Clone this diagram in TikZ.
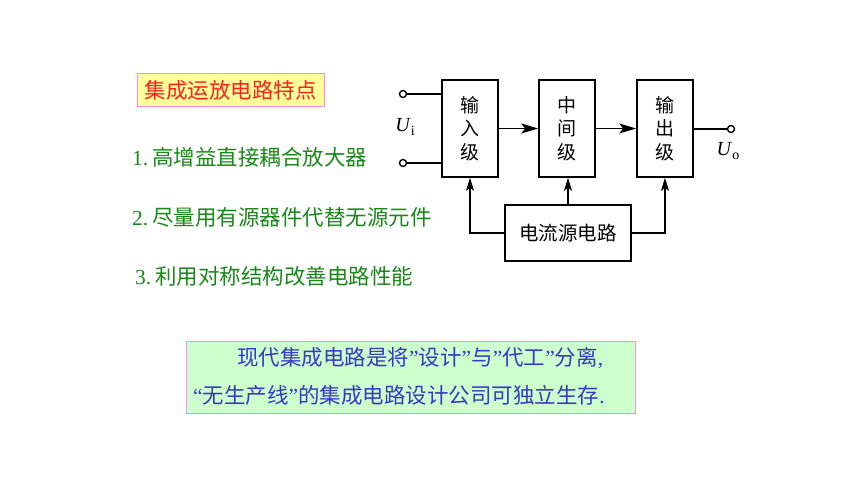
\documentclass[tikz,border=0pt]{standalone}
\usepackage{fontspec}
\setmainfont{Noto Sans CJK SC}
\newfontfamily\latinserif{Liberation Serif}
\usetikzlibrary{arrows.meta}
\definecolor{titlered}{HTML}{FF2020}
\definecolor{titlefill}{HTML}{FFFF99}
\definecolor{pinkline}{HTML}{FF88EE}
\definecolor{itemgreen}{HTML}{188818}
\definecolor{notefill}{HTML}{CCFFCC}
\definecolor{noteblue}{HTML}{3838C8}
\tikzset{
  blockbox/.style={draw, line width=1.6pt, minimum width=56pt, minimum height=97pt, inner sep=0pt, align=center, font=\fontsize{19}{23.5}\selectfont},
  wire/.style={line width=1.2pt},
  arr/.style={wire, -{Stealth[length=13pt,width=8pt,inset=3pt]}},
  harr/.style={wire, -{Stealth[length=17pt,width=10pt,inset=4pt]}},
  term/.style={circle, draw, line width=1.4pt, minimum size=7pt, inner sep=0pt, fill=white},
  itemtxt/.style={anchor=west, inner sep=0pt, text=itemgreen, font=\fontsize{21.5}{24}\selectfont},
  notetxt/.style={anchor=west, inner sep=0pt, text=noteblue, font=\fontsize{21.5}{24}\selectfont},
  symtxt/.style={inner sep=0pt, font=\fontsize{20}{22}\latinserif},
}
\begin{document}
\begin{tikzpicture}[x=1pt,y=-1pt]
\useasboundingbox (0,0) rectangle (860,484);
% title
\node[draw=pinkline, line width=1pt, fill=titlefill, minimum width=187pt, minimum height=33pt, inner sep=0pt, text=titlered, font=\fontsize{21.5}{24}\selectfont] (title) at (230.5,90.5) {集成运放电路特点};
% items
\node[itemtxt] (i1) at (132,157) {{\latinserif 1.}\hspace{4pt}高增益直接耦合放大器};
\node[itemtxt] (i2) at (132,217) {{\latinserif 2.}\hspace{4pt}尽量用有源器件代替无源元件};
\node[itemtxt] (i3) at (135,276) {{\latinserif 3.}\hspace{4pt}利用对称结构改善电路性能};
% block diagram
\node[blockbox] (in) at (470,128.5) {输\\入\\级};
\node[blockbox] (mid) at (567,128.5) {中\\间\\级};
\node[blockbox] (out) at (665,128.5) {输\\出\\级};
\node[draw, line width=1.6pt, minimum width=126pt, minimum height=56pt, inner sep=0pt, font=\fontsize{19.5}{23}\selectfont] (cs) at (568,233) {电流源电路};
\node[term] (t1) at (403,94) {};
\node[term] (t2) at (403,163) {};
\node[term] (t3) at (731,129) {};
\draw[wire] (t1) -- (t1 -| in.west);
\draw[wire] (t2) -- (t2 -| in.west);
\draw[wire] (out.east |- t3) -- (t3);
\node[symtxt] (ui) at (405,127) {\textit{U}\raisebox{-4pt}{\fontsize{14}{16}\selectfont i}};
\node[symtxt] (uo) at (728,151) {\textit{U}\raisebox{-4pt}{\fontsize{14}{16}\selectfont o}};
\draw[harr] (in.east) -- (mid.west);
\draw[harr] (mid.east) -- (out.west);
\draw[arr] (cs.west) -| (in.south);
\draw[arr] (cs.north) -- (cs.north |- mid.south);
\draw[arr] (cs.east) -| (out.south);
% note
\node[draw=pinkline, line width=1pt, fill=notefill, minimum width=449pt, minimum height=72pt, inner sep=0pt] (note) at (410.5,377) {};
\node[notetxt] (n1) at (237,358) {现代集成电路是将{\latinserif ”}设计{\latinserif ”}与{\latinserif ”}代工{\latinserif ”}分离{\latinserif ,}};
\node[notetxt] (n2) at (193,395) {{\latinserif “}无生产线{\latinserif ”}的集成电路设计公司可独立生存{\latinserif .}};
\end{tikzpicture}
\end{document}
